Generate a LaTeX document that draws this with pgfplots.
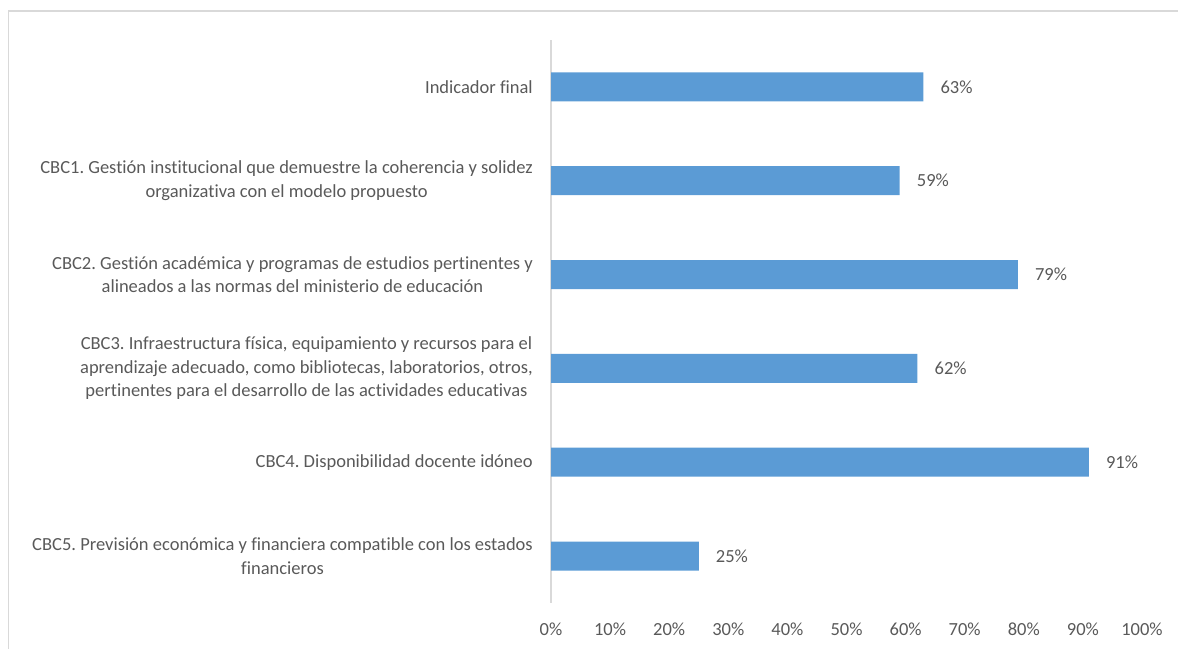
\documentclass[border=0pt]{standalone}
\usepackage{fontspec}
\setmainfont{Carlito}[Ligatures={NoCommon}]
\usepackage{pgfplots}
\pgfplotsset{compat=1.18}
\definecolor{barblue}{HTML}{5B9BD5}
\definecolor{txtgray}{HTML}{595959}
\definecolor{linegray}{HTML}{D9D9D9}
\frenchspacing
\begin{document}
\begin{tikzpicture}[x=1bp,y=1bp]
\path[use as bounding box] (0,0) rectangle (1178,649);
\draw[linegray, line width=1.2bp] (8.5,-10) -- (8.5,638) -- (1190,638);
\begin{axis}[
  at={(551bp,46bp)}, anchor=south west,
  scale only axis, width=591bp, height=563bp,
  xmin=0, xmax=100, ymin=-0.5, ymax=5.5,
  xbar, bar width=29bp,
  clip=false,
  axis lines=left,
  axis line style={-},
  x axis line style={draw=none},
  y axis line style={draw=linegray, line width=1.2bp},
  major tick length=0pt,
  /pgf/number format/assume math mode=true,
  xtick={0,10,...,100},
  xticklabel={\pgfmathprintnumber{\tick}\%},
  ytick={0,1,2,3,4,5},
  yticklabels={
    {CBC5. Previsión económica y financiera compatible con los estados\\financieros},
    {CBC4. Disponibilidad docente idóneo},
    {CBC3. Infraestructura física, equipamiento y recursos para el\\aprendizaje adecuado, como bibliotecas, laboratorios, otros,\\pertinentes para el desarrollo de las actividades educativas},
    {CBC2. Gestión académica y programas de estudios pertinentes y\\alineados a las normas del ministerio de educación},
    {CBC1. Gestión institucional que demuestre la coherencia y solidez\\organizativa con el modelo propuesto},
    {Indicador final}},
  every tick label/.append style={font=\fontsize{18.5bp}{23.5bp}\selectfont, text=txtgray, inner sep=0pt},
  xticklabel style={anchor=base, yshift=-33bp},
  yticklabel style={anchor=east, align=center, xshift=-18bp},
  nodes near coords={\pgfmathprintnumber{\pgfplotspointmeta}\%},
  every node near coord/.append style={font=\fontsize{18.5bp}{23.5bp}\selectfont, text=txtgray, anchor=west, inner sep=0pt, xshift=17bp},
]
\addplot[fill=barblue, draw=none] coordinates {
  (25,0) (91,1) (62,2) (79,3) (59,4) (63,5)
};
\end{axis}
\end{tikzpicture}
\end{document}
